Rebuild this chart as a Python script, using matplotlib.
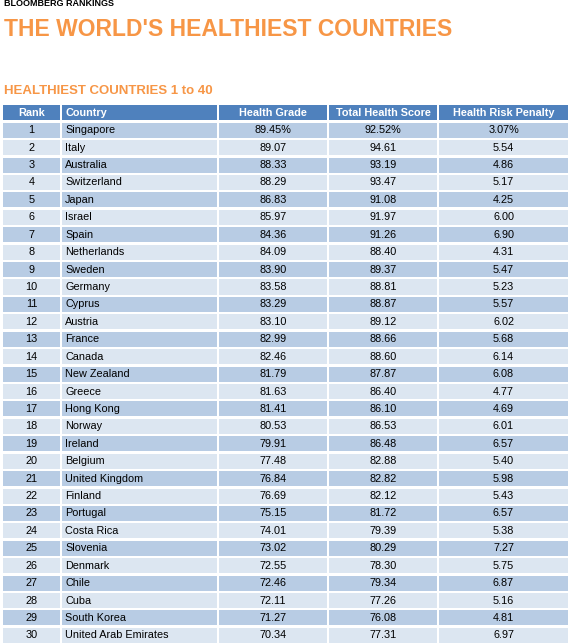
import matplotlib
matplotlib.use("Agg")
import matplotlib.pyplot as plt
from matplotlib.patches import Rectangle
from matplotlib import font_manager

names = {f.name for f in font_manager.fontManager.ttflist}
FONT = "Liberation Sans Narrow" if "Liberation Sans Narrow" in names else "Liberation Sans"

headers = ["Rank", "Country", "Health Grade", "Total Health Score", "Health Risk Penalty"]
ranks = list(range(1, 31))
countries = ["Singapore", "Italy", "Australia", "Switzerland", "Japan", "Israel", "Spain",
             "Netherlands", "Sweden", "Germany", "Cyprus", "Austria", "France", "Canada",
             "New Zealand", "Greece", "Hong Kong", "Norway", "Ireland", "Belgium",
             "United Kingdom", "Finland", "Portugal", "Costa Rica", "Slovenia", "Denmark",
             "Chile", "Cuba", "South Korea", "United Arab Emirates"]
health_grade = [89.45, 89.07, 88.33, 88.29, 86.83, 85.97, 84.36, 84.09, 83.90, 83.58, 83.29,
                83.10, 82.99, 82.46, 81.79, 81.63, 81.41, 80.53, 79.91, 77.48, 76.84, 76.69,
                75.15, 74.01, 73.02, 72.55, 72.46, 72.11, 71.27, 70.34]
total_score = [92.52, 94.61, 93.19, 93.47, 91.08, 91.97, 91.26, 88.40, 89.37, 88.81, 88.87,
               89.12, 88.66, 88.60, 87.87, 86.40, 86.10, 86.53, 86.48, 82.88, 82.82, 82.12,
               81.72, 79.39, 80.29, 78.30, 79.34, 77.26, 76.08, 77.31]
risk_penalty = [3.07, 5.54, 4.86, 5.17, 4.25, 6.00, 6.90, 4.31, 5.47, 5.23, 5.57, 6.02, 5.68,
                6.14, 6.08, 4.77, 4.69, 6.01, 6.57, 5.40, 5.98, 5.43, 6.57, 5.38, 7.27, 5.75,
                6.87, 5.16, 4.81, 6.97]

W, H = 571, 643
fig = plt.figure(figsize=(W/100, H/100), dpi=100)
ax = fig.add_axes([0, 0, 1, 1])
ax.set_xlim(0, W); ax.set_ylim(H, 0); ax.axis("off")

orange = "#f79646"
ax.text(4, 3, "BLOOMBERG RANKINGS", fontsize=6.5, fontweight="bold", family=FONT, va="center", color="black")
ax.text(4, 29, "THE WORLD'S HEALTHIEST COUNTRIES", fontsize=16.5, fontweight="bold", family=FONT,
        va="center", color=orange)
ax.text(4, 91, "HEALTHIEST COUNTRIES 1 to 40", fontsize=9.5, fontweight="bold", family=FONT,
        va="center", color=orange)

edges = [2, 61, 218, 328, 438, 569]
gap = 1.2
top = 103.5
hh = 18
rh = 17.42

def row(y0, h, color, texts, tcolor, weight):
    for i in range(5):
        ax.add_patch(Rectangle((edges[i] + gap, y0 + gap), edges[i+1] - edges[i] - 2*gap, h - 2*gap,
                               facecolor=color, edgecolor="none"))
        if i == 1:
            ax.text(edges[i] + 4, y0 + h/2, texts[i], ha="left", va="center", fontsize=7.8,
                    family=FONT, color=tcolor, fontweight=weight)
        else:
            ax.text((edges[i] + edges[i+1]) / 2, y0 + h/2, texts[i], ha="center", va="center",
                    fontsize=7.8, family=FONT, color=tcolor, fontweight=weight)

row(top, hh, "#4f81bd", headers, "white", "bold")
for k in range(len(ranks)):
    if k == 0:
        vals = [f"{health_grade[k]:.2f}%", f"{total_score[k]:.2f}%", f"{risk_penalty[k]:.2f}%"]
    else:
        vals = [f"{health_grade[k]:.2f}", f"{total_score[k]:.2f}", f"{risk_penalty[k]:.2f}"]
    color = "#b8cce4" if k % 2 == 0 else "#dce6f1"
    row(top + hh + k*rh, rh, color, [str(ranks[k]), countries[k]] + vals, "black", "normal")

fig.savefig("out.png", dpi=100)
